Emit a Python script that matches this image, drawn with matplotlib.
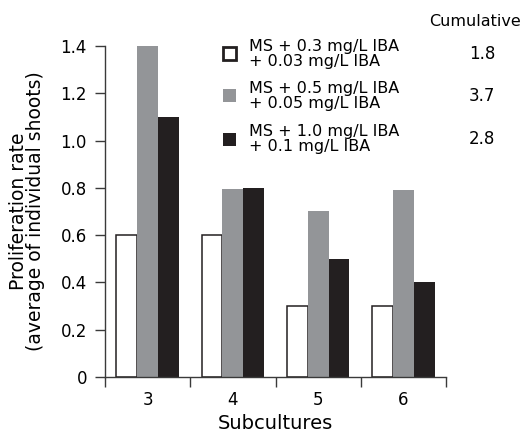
import matplotlib
matplotlib.use("Agg")
import matplotlib.pyplot as plt
from matplotlib.patches import Rectangle
import numpy as np

subcultures = ["3", "4", "5", "6"]
low = [0.6, 0.6, 0.3, 0.3]
mid = [1.4, 0.795, 0.7, 0.79]
high = [1.1, 0.8, 0.5, 0.4]
series_labels = ["MS + 0.3 mg/L IBA\n+ 0.03 mg/L IBA",
                 "MS + 0.5 mg/L IBA\n+ 0.05 mg/L IBA",
                 "MS + 1.0 mg/L IBA\n+ 0.1 mg/L IBA"]
cumulative = ["1.8", "3.7", "2.8"]
yticks = [0, 0.2, 0.4, 0.6, 0.8, 1.0, 1.2, 1.4]
ytick_labels = ["0", "0.2", "0.4", "0.6", "0.8", "1.0", "1.2", "1.4"]

W, H = 524, 436
fig = plt.figure(figsize=(W / 100, H / 100), dpi=100)
plt.rcParams['font.family'] = ['DejaVu Sans']
ax = fig.add_axes([105 / W, 1 - 377 / H, (446 - 105) / W, (377 - 46) / H])

dark = "#231f20"
gray = "#939598"
x = np.arange(len(subcultures))
bw = 0.245
ax.bar(x - bw, low, bw, color="white", edgecolor=dark, linewidth=1.1)
ax.bar(x, mid, bw, color=gray, edgecolor=gray, linewidth=0)
ax.bar(x + bw, high, bw, color=dark, edgecolor=dark, linewidth=0)

ax.set_xlim(-0.5, len(subcultures) - 0.5)
ax.set_ylim(0, 1.4)
for s in ["top", "right"]:
    ax.spines[s].set_visible(False)
for s in ["left", "bottom"]:
    ax.spines[s].set_color("#3a3a3a")
    ax.spines[s].set_linewidth(1.0)

ax.set_yticks(yticks)
ax.set_yticklabels(ytick_labels, fontsize=12)
ax.tick_params(axis="y", length=7, width=1, color="#3a3a3a", pad=6)

ax.set_xticks(np.arange(-0.5, len(subcultures), 1.0))
ax.set_xticklabels([])
ax.tick_params(axis="x", which="major", length=7, width=1, color="#3a3a3a")
ax.set_xticks(x, minor=True)
ax.set_xticklabels(subcultures, minor=True, fontsize=12)
ax.tick_params(axis="x", which="minor", length=0, pad=10)

ax.set_xlabel("Subcultures", fontsize=14, labelpad=4)
ax.set_ylabel("Proliferation rate\n(average of individual shoots)", fontsize=13.5,
              linespacing=0.9)
ax.yaxis.set_label_coords((45 - 105) / 341, 0.5)

# legend (manual)
face = ["white", gray, dark]
edge = [dark, gray, dark]
lw = [2.0, 0, 0]
centers = [54, 96, 139]
for i in range(3):
    cy = centers[i]
    r = Rectangle(((223) / W, 1 - (cy + 6.5) / H), 13 / W, 13 / H,
                  transform=fig.transFigure, facecolor=face[i], edgecolor=edge[i],
                  linewidth=lw[i])
    fig.patches.append(r)
    fig.text(249 / W, 1 - cy / H, series_labels[i], fontsize=11.5, va="center",
             ha="left", linespacing=0.95)
    fig.text(482 / W, 1 - cy / H, cumulative[i], fontsize=12, va="center", ha="center")
fig.text(429 / W, 1 - 21 / H, "Cumulative", fontsize=11.5, va="center", ha="left")

fig.savefig("out.png", dpi=100)
